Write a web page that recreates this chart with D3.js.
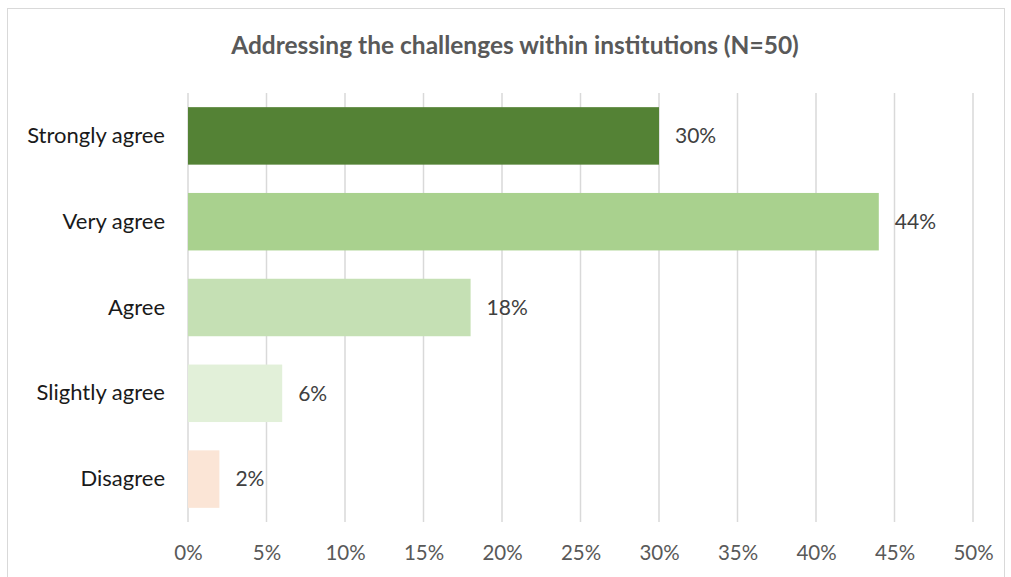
<!DOCTYPE html>
<html>
<head>
<meta charset="utf-8">
<script src="https://cdn.jsdelivr.net/npm/d3@7/dist/d3.min.js"></script>
<style>
  html, body { margin: 0; padding: 0; background: #fff; }
  svg { display: block; font-family: Lato, "Open Sans", sans-serif; }
</style>
</head>
<body>
<svg id="chart" width="1011" height="577"></svg>
<script>
// Survey responses
const categories = ["Strongly agree", "Very agree", "Agree", "Slightly agree", "Disagree"];
const values = [30, 44, 18, 6, 2];
const barColors = ["#548235", "#A9D18E", "#C5E0B4", "#E2F0D9", "#FBE5D6"];
const tickValues = [0, 5, 10, 15, 20, 25, 30, 35, 40, 45, 50];
const title = "Addressing the challenges within institutions (N=50)";

const svg = d3.select("#chart");
const W = 1011, H = 577;
const margin = { top: 93, right: 38, bottom: 55, left: 188 };

// chart frame
svg.append("rect")
  .attr("x", 7.5).attr("y", 8.5)
  .attr("width", 997).attr("height", 580)
  .attr("fill", "#fff").attr("stroke", "#d9d9d9").attr("stroke-width", 1);

const x = d3.scaleLinear().domain([0, 50]).range([margin.left, W - margin.right]);
const y = d3.scaleBand().domain(categories)
  .range([margin.top, H - margin.bottom])
  .paddingInner(0.33).paddingOuter(0.165);

// vertical gridlines
svg.append("g").selectAll("line").data(tickValues).join("line")
  .attr("x1", d => x(d)).attr("x2", d => x(d))
  .attr("y1", margin.top).attr("y2", H - margin.bottom)
  .attr("stroke", "#d9d9d9").attr("stroke-width", 1.5);

// bars
svg.append("g").selectAll("rect").data(categories).join("rect")
  .attr("x", x(0))
  .attr("y", d => y(d))
  .attr("width", (d, i) => x(values[i]) - x(0))
  .attr("height", y.bandwidth())
  .attr("fill", (d, i) => barColors[i]);

// value labels
svg.append("g").selectAll("text").data(categories).join("text")
  .attr("x", (d, i) => x(values[i]) + 16)
  .attr("y", d => y(d) + y.bandwidth() / 2)
  .attr("dy", "0.35em")
  .attr("font-size", 21)
  .attr("fill", "#404040")
  .text((d, i) => values[i] + "%");

// category axis
const yAxis = d3.axisLeft(y).tickSize(0).tickPadding(23);
svg.append("g")
  .attr("transform", `translate(${margin.left},0)`)
  .call(yAxis)
  .call(g => g.select(".domain").remove())
  .call(g => g.selectAll("text")
    .attr("font-size", 22)
    .attr("font-family", "Lato, 'Open Sans', sans-serif")
    .attr("fill", "#1a1a1a"));

// value axis
const xAxis = d3.axisBottom(x).tickValues(tickValues).tickSize(0).tickPadding(23)
  .tickFormat(d => d + "%");
svg.append("g")
  .attr("transform", `translate(0,${H - margin.bottom})`)
  .call(xAxis)
  .call(g => g.select(".domain").remove())
  .call(g => g.selectAll("text")
    .attr("font-size", 20.5)
    .attr("font-family", "Lato, 'Open Sans', sans-serif")
    .attr("fill", "#595959"));

// title
svg.append("text")
  .attr("x", 515).attr("y", 54)
  .attr("text-anchor", "middle")
  .attr("font-size", 24.5)
  .attr("font-weight", "bold")
  .attr("fill", "#595959")
  .text(title);
</script>
</body>
</html>
